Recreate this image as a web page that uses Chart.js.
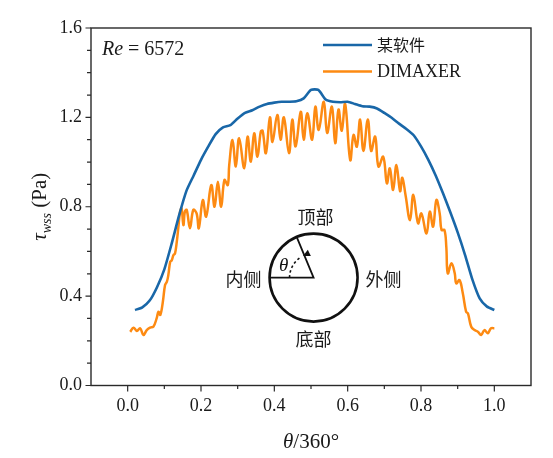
<!DOCTYPE html>
<html>
<head>
<meta charset="utf-8">
<script src="https://cdn.jsdelivr.net/npm/chart.js@4"></script>
<style>
  html, body { margin: 0; padding: 0; background: #fff; }
  canvas { display: block; }
</style>
</head>
<body>
<canvas id="myChart" width="553" height="458"></canvas>
<script>
// values (theta/360, wall shear stress in Pa)
const softwareX = [0.02, 0.04, 0.06, 0.08, 0.10, 0.12, 0.14, 0.16, 0.18, 0.20,
  0.22, 0.24, 0.26, 0.28, 0.30, 0.32, 0.34, 0.36, 0.38, 0.40,
  0.42, 0.44, 0.46, 0.48, 0.50, 0.52, 0.54, 0.56, 0.58, 0.60,
  0.62, 0.64, 0.66, 0.68, 0.70, 0.72, 0.74, 0.76, 0.78, 0.80,
  0.82, 0.84, 0.86, 0.88, 0.90, 0.92, 0.94, 0.96, 0.98, 1.00];
const softwareY = [0.338, 0.35, 0.38, 0.44, 0.52, 0.635, 0.76, 0.87, 0.94, 1.01,
  1.07, 1.125, 1.155, 1.165, 1.195, 1.22, 1.232, 1.248, 1.26, 1.266,
  1.27, 1.27, 1.272, 1.285, 1.323, 1.323, 1.28, 1.27, 1.268, 1.27,
  1.26, 1.25, 1.248, 1.24, 1.22, 1.198, 1.172, 1.148, 1.12, 1.07,
  1.01, 0.94, 0.86, 0.775, 0.685, 0.585, 0.475, 0.39, 0.353, 0.338];

const dimaxerX = [0.007, 0.016, 0.025, 0.034, 0.043, 0.052, 0.061, 0.070, 0.079, 0.084,
  0.089, 0.096, 0.102, 0.107, 0.111, 0.116, 0.120, 0.125, 0.129, 0.134,
  0.138, 0.143, 0.147, 0.152, 0.156, 0.161, 0.170, 0.179, 0.188, 0.194,
  0.205, 0.214, 0.228, 0.237, 0.246, 0.255, 0.264, 0.273, 0.277, 0.286,
  0.295, 0.304, 0.318, 0.327, 0.336, 0.345, 0.354, 0.363, 0.368, 0.377,
  0.388, 0.395, 0.408, 0.417, 0.426, 0.440, 0.449, 0.458, 0.472, 0.480,
  0.490, 0.503, 0.512, 0.521, 0.535, 0.544, 0.557, 0.566, 0.575, 0.584,
  0.593, 0.607, 0.616, 0.625, 0.634, 0.643, 0.655, 0.664, 0.675, 0.684,
  0.697, 0.707, 0.715, 0.724, 0.733, 0.743, 0.749, 0.758, 0.770, 0.779,
  0.792, 0.801, 0.815, 0.824, 0.833, 0.842, 0.851, 0.856, 0.864, 0.869,
  0.873, 0.883, 0.892, 0.896, 0.905, 0.914, 0.923, 0.928, 0.937, 0.946,
  0.955, 0.964, 0.973, 0.982, 0.991, 1.000];
const dimaxerY = [0.24, 0.259, 0.244, 0.256, 0.226, 0.248, 0.259, 0.263, 0.30, 0.33,
  0.316, 0.375, 0.45, 0.465, 0.495, 0.554, 0.56, 0.584, 0.59, 0.644,
  0.704, 0.778, 0.793, 0.718, 0.778, 0.786, 0.704, 0.786, 0.77, 0.704,
  0.83, 0.756, 0.897, 0.80, 0.912, 0.80, 0.92, 0.897, 0.987, 1.099,
  0.98, 1.107, 0.972, 1.114, 1.002, 1.129, 1.024, 1.136, 1.14, 1.04,
  1.20, 1.09, 1.211, 1.10, 1.20, 1.04, 1.19, 1.07, 1.225, 1.10,
  1.218, 1.10, 1.248, 1.144, 1.27, 1.13, 1.248, 1.084, 1.235, 1.14,
  1.26, 1.009, 1.121, 1.069, 1.19, 1.05, 1.19, 1.05, 1.114, 0.98,
  1.024, 0.905, 0.972, 0.875, 0.987, 0.87, 0.93, 0.85, 0.74, 0.853,
  0.726, 0.77, 0.68, 0.778, 0.711, 0.83, 0.77, 0.696, 0.696, 0.621,
  0.502, 0.547, 0.502, 0.457, 0.472, 0.413, 0.33, 0.323, 0.263, 0.248,
  0.241, 0.226, 0.248, 0.234, 0.256, 0.256];

const seriesNames = ['某软件', 'DIMAXER'];
const seriesColors = ['#1967a8', '#fd8a12'];
const xTickLabels = ['0.0', '0.2', '0.4', '0.6', '0.8', '1.0'];
const yTickLabels = ['0.0', '0.4', '0.8', '1.2', '1.6'];

const SERIF = '"Liberation Serif", "Times New Roman", serif';
const CJK = '"Noto Sans CJK SC", sans-serif';

function pairs(xs, ys) {
  return xs.map((v, i) => ({ x: v, y: ys[i] }));
}

const decor = {
  id: 'decor',
  afterDraw(chart) {
    const ctx = chart.ctx;
    const a = chart.chartArea;
    const xs = chart.scales.x, ys = chart.scales.y;
    ctx.save();

    // frame
    ctx.strokeStyle = '#2a2a2a';
    ctx.lineWidth = 1.4;
    ctx.strokeRect(a.left, a.top, a.right - a.left, a.bottom - a.top);

    // ticks, outward
    ctx.lineWidth = 1.2;
    ctx.beginPath();
    for (let i = 0; i <= 10; i++) {
      const px = xs.getPixelForValue(i / 10);
      const len = i % 2 === 0 ? 6 : 3.5;
      ctx.moveTo(px, a.bottom);
      ctx.lineTo(px, a.bottom + len);
    }
    for (let i = 0; i <= 16; i++) {
      const py = ys.getPixelForValue(i / 10);
      const len = i % 4 === 0 ? 5.5 : 4;
      ctx.moveTo(a.left, py);
      ctx.lineTo(a.left - len, py);
    }
    ctx.stroke();

    ctx.fillStyle = '#1a1a1a';

    // x title
    ctx.textBaseline = 'alphabetic';
    ctx.textAlign = 'left';
    ctx.font = 'italic 21px ' + SERIF;
    const w1 = ctx.measureText('θ').width;
    ctx.font = '21px ' + SERIF;
    const w2 = ctx.measureText('/360°').width;
    const sx = (a.left + a.right) / 2 - (w1 + w2) / 2;
    ctx.font = 'italic 21px ' + SERIF;
    ctx.fillText('θ', sx, 448);
    ctx.font = '21px ' + SERIF;
    ctx.fillText('/360°', sx + w1, 448);

    // y title
    ctx.save();
    ctx.translate(46, (a.top + a.bottom) / 2);
    ctx.rotate(-Math.PI / 2);
    ctx.font = 'italic 21px ' + SERIF;
    const tw = ctx.measureText('τ').width;
    ctx.font = 'italic 14px ' + SERIF;
    const sw = ctx.measureText('wss').width;
    ctx.font = '21px ' + SERIF;
    const pw = ctx.measureText(' (Pa)').width;
    const tx = -(tw + sw + pw) / 2;
    ctx.font = 'italic 21px ' + SERIF;
    ctx.fillText('τ', tx, 0);
    ctx.font = 'italic 14px ' + SERIF;
    ctx.fillText('wss', tx + tw, 5);
    ctx.font = '21px ' + SERIF;
    ctx.fillText(' (Pa)', tx + tw + sw, 0);
    ctx.restore();

    // Re label
    ctx.textBaseline = 'middle';
    ctx.font = 'italic 20px ' + SERIF;
    ctx.fillText('Re', a.left + 11, a.top + 22);
    const rw = ctx.measureText('Re').width;
    ctx.font = '20px ' + SERIF;
    ctx.fillText(' = 6572', a.left + 11 + rw, a.top + 22);

    // legend
    chart.data.datasets.forEach((ds, i) => {
      const ly = a.top + 17 + i * 26.5;
      ctx.strokeStyle = ds.borderColor;
      ctx.lineWidth = 2.6;
      ctx.beginPath();
      ctx.moveTo(a.left + 232, ly);
      ctx.lineTo(a.left + 281, ly);
      ctx.stroke();
      ctx.fillStyle = '#1a1a1a';
      ctx.font = (i === 0 ? '16px ' + CJK : '18px ' + SERIF);
      ctx.fillText(ds.label, a.left + 286, ly + (i === 0 ? 0 : 1));
    });

    // pipe cross-section inset
    const cx = xs.getPixelForValue(0.507);
    const cy = ys.getPixelForValue(0.483);
    const r = 44;
    ctx.strokeStyle = '#111';
    ctx.lineWidth = 2.6;
    ctx.beginPath();
    ctx.arc(cx, cy, r, 0, Math.PI * 2);
    ctx.stroke();
    const ang = -112.6 * Math.PI / 180;
    ctx.lineWidth = 1.8;
    ctx.beginPath();
    ctx.moveTo(cx - r, cy);
    ctx.lineTo(cx, cy);
    ctx.lineTo(cx + r * Math.cos(ang), cy + r * Math.sin(ang));
    ctx.stroke();
    // dotted arc with arrow
    const ar = 24;
    ctx.setLineDash([2.5, 2.5]);
    ctx.lineWidth = 1.6;
    ctx.beginPath();
    ctx.arc(cx, cy, ar, Math.PI, 236 * Math.PI / 180);
    ctx.stroke();
    ctx.setLineDash([]);
    const ea = 244 * Math.PI / 180;
    const hx = cx + ar * Math.cos(ea), hy = cy + ar * Math.sin(ea);
    const tdx = -Math.sin(ea), tdy = Math.cos(ea);
    ctx.fillStyle = '#111';
    ctx.beginPath();
    ctx.moveTo(hx, hy);
    ctx.lineTo(hx + tdx * 7 + Math.cos(ea) * 3.5, hy + tdy * 7 + Math.sin(ea) * 3.5);
    ctx.lineTo(hx + tdx * 7 - Math.cos(ea) * 3.5, hy + tdy * 7 - Math.sin(ea) * 3.5);
    ctx.closePath();
    ctx.fill();
    ctx.font = 'italic 19px ' + SERIF;
    ctx.textAlign = 'center';
    ctx.fillText('θ', cx - 30, cy - 12);

    ctx.fillStyle = '#1a1a1a';
    ctx.font = '18px ' + CJK;
    ctx.fillText('顶部', cx + 2, cy - r - 16);
    ctx.fillText('底部', cx, cy + r + 18);
    ctx.fillText('内侧', cx - r - 26, cy + 2);
    ctx.fillText('外侧', cx + r + 26, cy + 2);

    ctx.restore();
  }
};

new Chart(document.getElementById('myChart').getContext('2d'), {
  type: 'scatter',
  data: {
    datasets: [{
      label: seriesNames[0],
      data: pairs(softwareX, softwareY),
      borderColor: seriesColors[0],
      backgroundColor: seriesColors[0],
      showLine: true,
      borderWidth: 2.6,
      pointRadius: 0,
      tension: 0.2
    }, {
      label: seriesNames[1],
      data: pairs(dimaxerX, dimaxerY),
      borderColor: seriesColors[1],
      backgroundColor: seriesColors[1],
      showLine: true,
      borderWidth: 2.5,
      pointRadius: 0,
      tension: 0.4
    }]
  },
  options: {
    responsive: false,
    animation: false,
    layout: { padding: { top: 28, right: 22, left: 0, bottom: 0 } },
    plugins: { legend: { display: false }, tooltip: { enabled: false } },
    scales: {
      x: {
        type: 'linear',
        min: -0.1,
        max: 1.1,
        grid: { display: false, drawTicks: false },
        border: { display: false },
        ticks: {
          stepSize: 0.1,
          padding: 10,
          maxRotation: 0,
          autoSkip: false,
          color: '#1a1a1a',
          font: { family: SERIF, size: 18 },
          callback: v => xTickLabels.includes(Number(v).toFixed(1)) ? Number(v).toFixed(1) : ''
        },
        afterFit: s => { s.height = 72.5; }
      },
      y: {
        min: 0,
        max: 1.6,
        grid: { display: false, drawTicks: false },
        border: { display: false },
        ticks: {
          stepSize: 0.1,
          padding: 9,
          autoSkip: false,
          color: '#1a1a1a',
          font: { family: SERIF, size: 18 },
          callback: v => yTickLabels.includes(Number(v).toFixed(1)) ? Number(v).toFixed(1) : ''
        },
        afterFit: s => { s.width = 91; }
      }
    }
  },
  plugins: [decor]
});
</script>
</body>
</html>
